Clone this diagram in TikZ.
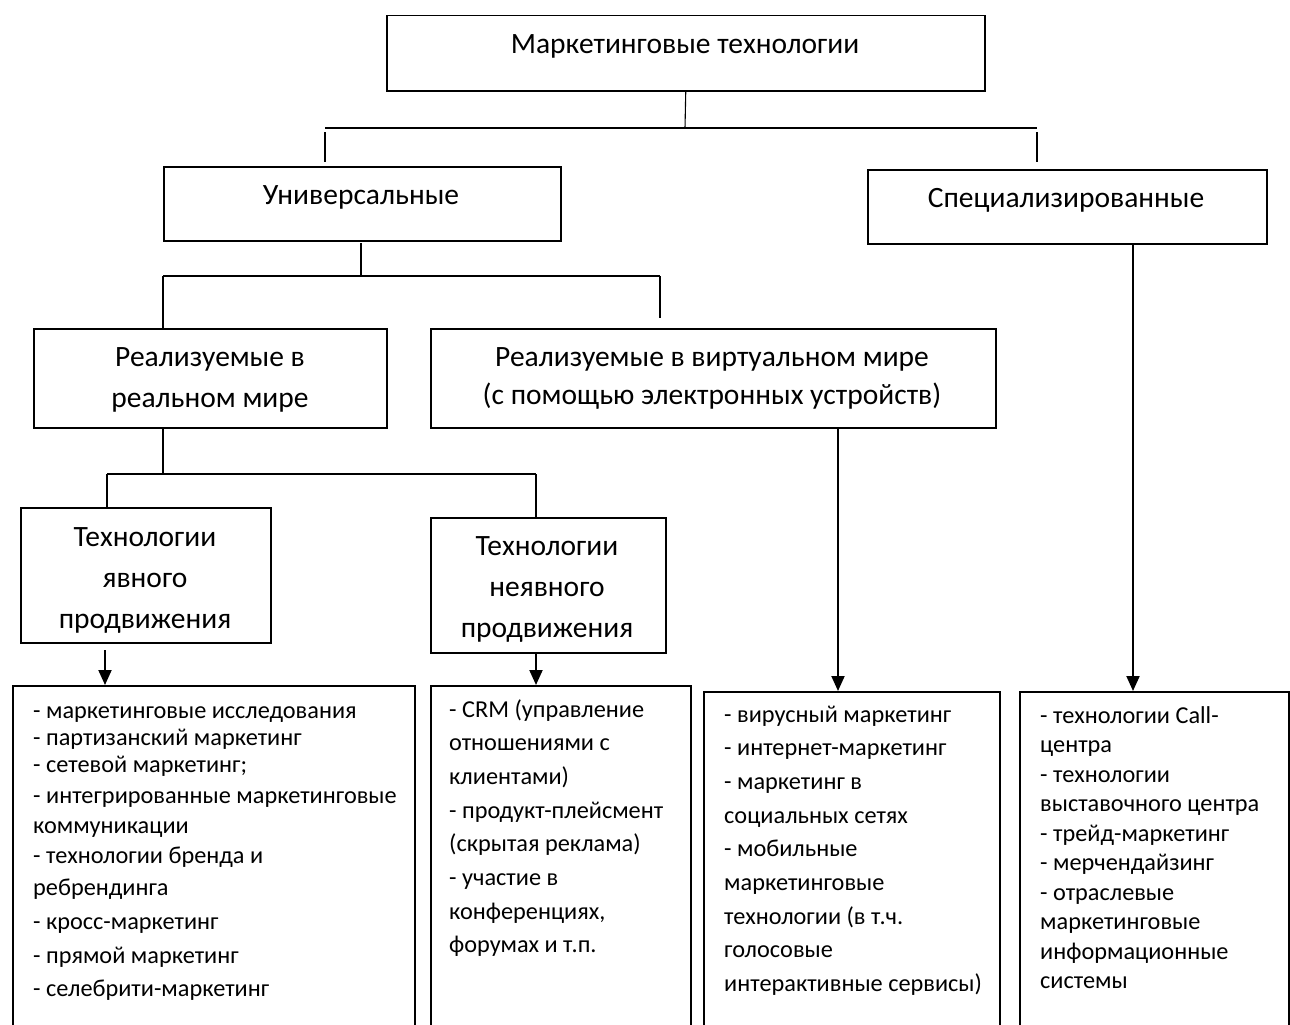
\documentclass[tikz,border=0pt]{standalone}
\usepackage{fontspec}
\setmainfont{Carlito}
\usetikzlibrary{arrows.meta}
\tikzset{
  box/.style={draw, line width=1.5pt, inner sep=0pt, anchor=north west},
  conn/.style={line width=1.1pt},
  arr/.style={line width=2pt, -{Triangle[length=15pt,width=13pt]}},
  hdr/.style={inner sep=0pt, anchor=base},
  lst/.style={inner sep=0pt, anchor=base west},
}
\newcommand{\hfnt}{\fontsize{29.5}{41}\selectfont}
\newcommand{\hb}[2]{\parbox[t]{#1}{\centering\hfnt #2}}
\begin{document}
\begin{tikzpicture}[x=1pt,y=-1pt]
\useasboundingbox (0,0) rectangle (1290,1025);
\clip (0,0) rectangle (1290,1025);
\fill[white] (0,0) rectangle (1290,1025);
% boxes
\node[box, minimum width=598pt, minimum height=75pt] (top) at (386,15) {};
\node[box, minimum width=397pt, minimum height=74pt] (univ) at (163,166) {};
\node[box, minimum width=399pt, minimum height=74pt] (spec) at (867,169) {};
\node[box, minimum width=353pt, minimum height=99pt] (real) at (33,328) {};
\node[box, minimum width=565pt, minimum height=99pt] (virt) at (430,328) {};
\node[box, minimum width=250pt, minimum height=135pt] (yavn) at (20,507) {};
\node[box, minimum width=235pt, minimum height=135pt] (neyavn) at (430,517) {};
\node[box, minimum width=402pt, minimum height=400pt] (l1) at (12,685) {};
\node[box, minimum width=260pt, minimum height=400pt] (l2) at (430,685) {};
\node[box, minimum width=296pt, minimum height=400pt] (l3) at (703,691) {};
\node[box, minimum width=269pt, minimum height=400pt] (l4) at (1019,691) {};
% header texts
\node[hdr] (ttop) at (685,54) {\hfnt Маркетинговые технологии};
\node[hdr] (tuniv) at (361,204) {\hfnt Универсальные};
\node[hdr] (tspec) at (1066,207) {\hfnt Специализированные};
\node[hdr] (treal) at (210,366) {\hb{345pt}{Реализуемые в\\реальном мире}};
\node[hdr] (tvirt) at (712,366) {\fontsize{29.5}{38}\selectfont\parbox[t]{560pt}{\centering Реализуемые в виртуальном мире\\(с помощью электронных устройств)}};
\node[hdr] (tyavn) at (145,546) {\hb{245pt}{Технологии\\явного\\продвижения}};
\node[hdr] (tneyavn) at (547,555) {\hb{230pt}{Технологии\\неявного\\продвижения}};
% list texts
\node[lst] (tl1) at (33,718) {\parbox[t]{380pt}{\raggedright\fontsize{24.3}{27}\selectfont
- маркетинговые исследования\\
- партизанский маркетинг\\
- сетевой маркетинг;\\[4pt]
- интегрированные маркетинговые\\[3pt]
коммуникации\\[3pt]
- технологии бренда и\\[5pt]
ребрендинга\\[7pt]
- кросс-маркетинг\\[7pt]
- прямой маркетинг\\[6pt]
- селебрити-маркетинг}};
\node[lst] (tl2) at (449,717) {\parbox[t]{240pt}{\raggedright\fontsize{24.3}{33.7}\selectfont
- CRM (управление\\
отношениями с\\
клиентами)\\
- продукт-плейсмент\\
(скрытая реклама)\\
- участие в\\
конференциях,\\
форумах и т.п.}};
\node[lst] (tl3) at (724,722) {\parbox[t]{275pt}{\raggedright\fontsize{24.3}{33.7}\selectfont
- вирусный маркетинг\\
- интернет-маркетинг\\
- маркетинг в\\
социальных сетях\\
- мобильные\\
маркетинговые\\
технологии (в т.ч.\\
голосовые\\
интерактивные сервисы)}};
\node[lst] (tl4) at (1040,723) {\parbox[t]{245pt}{\raggedright\fontsize{24.3}{29.5}\selectfont
- технологии Call-\\
центра\\
- технологии\\
выставочного центра\\
- трейд-маркетинг\\
- мерчендайзинг\\
- отраслевые\\
маркетинговые\\
информационные\\
системы}};
% tree connectors
\coordinate (h1) at (685,128);
\coordinate (h1l) at (325,128);
\coordinate (h1r) at (1037,128);
\coordinate (s1l) at (325,132);
\coordinate (e1l) at (325,162);
\coordinate (s1r) at (1037,132);
\coordinate (e1r) at (1037,162);
\draw[conn] (top.south) -- (h1);
\draw[conn] (h1l) -- (h1r);
\draw[conn] (s1l) -- (e1l);
\draw[conn] (s1r) -- (e1r);
\coordinate (u0) at (361,243);
\coordinate (h2) at (361,276);
\coordinate (h2l) at (163,276);
\coordinate (h2r) at (660,276);
\coordinate (e2r) at (660,318);
\draw[conn] (u0) -- (h2);
\draw[conn] (h2l) -- (h2r);
\draw[conn] (h2l) -- (h2l |- real.north);
\draw[conn] (h2r) -- (e2r);
\coordinate (h3) at (163,474);
\coordinate (h3l) at (107,474);
\coordinate (h3r) at (536,474);
\draw[conn] (h3 |- real.south) -- (h3);
\draw[conn] (h3l) -- (h3r);
\draw[conn] (h3l) -- (h3l |- yavn.north);
\draw[conn] (h3r) -- (h3r |- neyavn.north);
% arrows
\coordinate (a1) at (105,650);
\coordinate (a2) at (536,0);
\coordinate (a3) at (838,0);
\coordinate (a4) at (1133,0);
\draw[arr] (a1) -- (a1 |- l1.north);
\draw[arr] (a2 |- neyavn.south) -- (a2 |- l2.north);
\draw[arr] (a3 |- virt.south) -- (a3 |- l3.north);
\draw[arr] (a4 |- spec.south) -- (a4 |- l4.north);
\end{tikzpicture}
\end{document}
